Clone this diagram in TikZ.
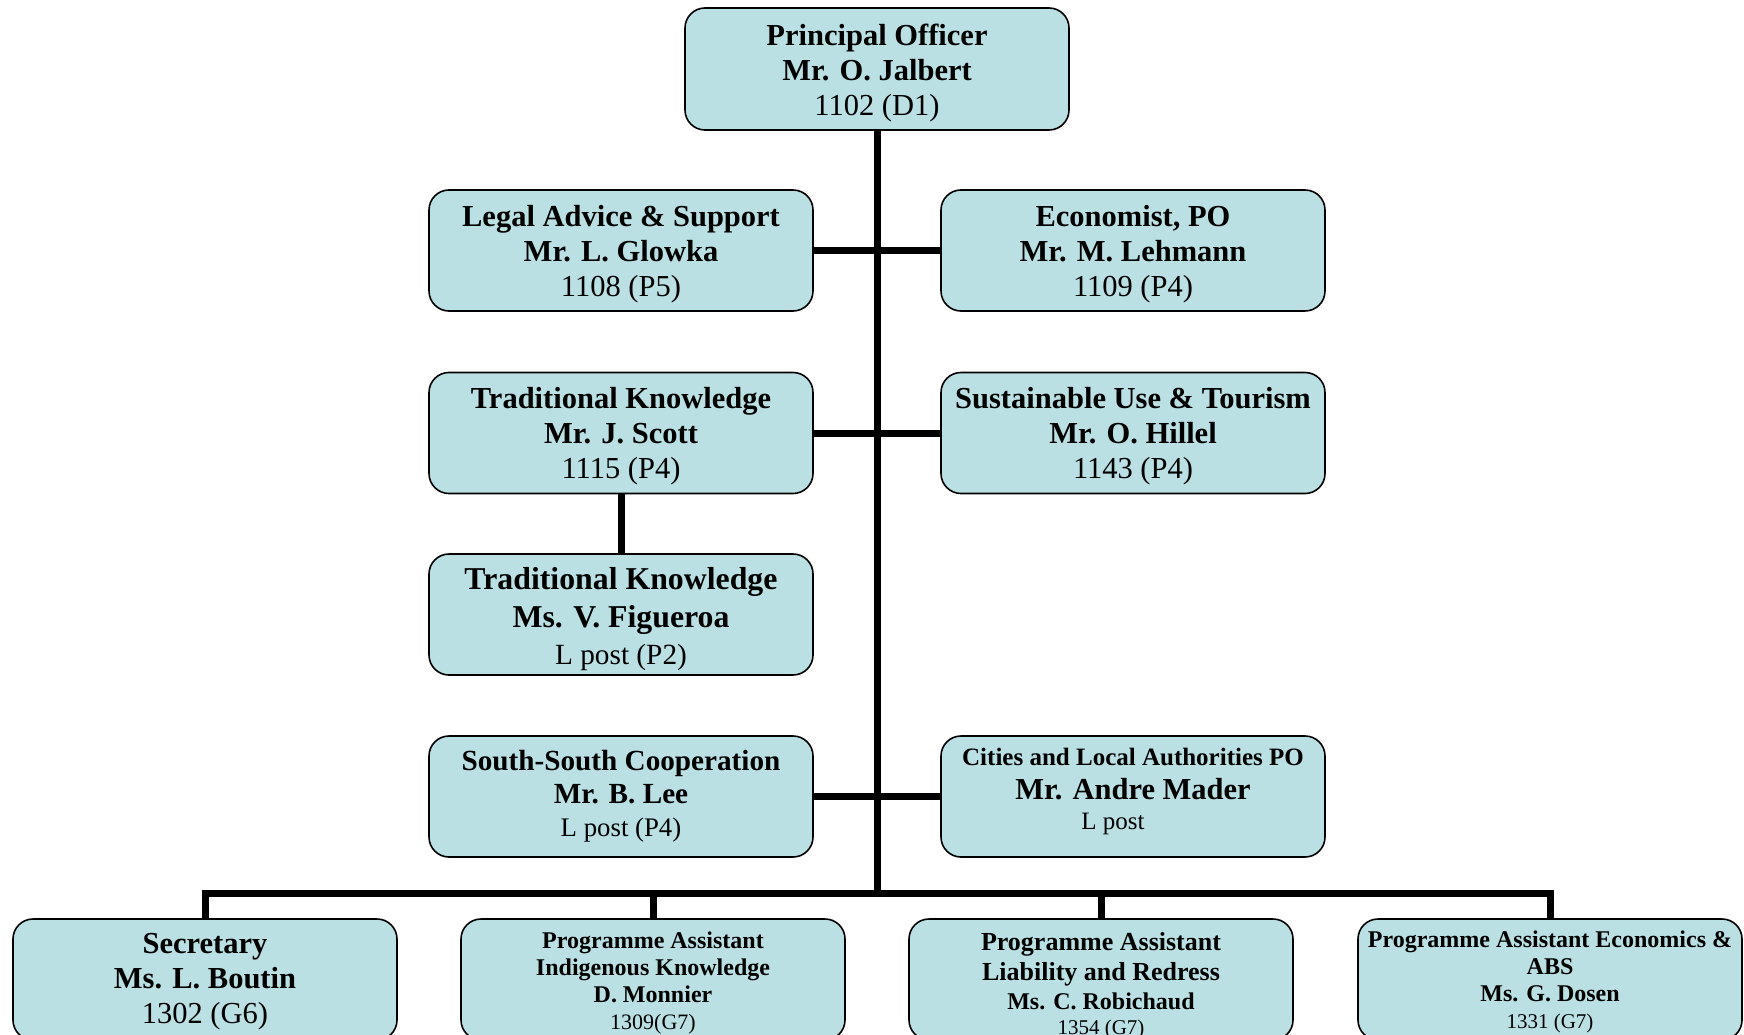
\documentclass[tikz,border=0pt]{standalone}
\usepackage{fontspec}
\setmainfont{Liberation Serif}
\definecolor{boxfill}{RGB}{186,224,228}
\newcommand{\fsz}[2]{\fontsize{#1}{#2}\selectfont}
\tikzset{
  orgbox/.style={draw=black, line width=1.6pt, fill=boxfill, rounded corners=20pt,
    minimum width=384pt, minimum height=121pt, inner sep=0pt},
  orgtext/.style={align=center, inner sep=0pt, font=\fsz{30.5}{35}},
  link/.style={line width=7pt, line join=miter},
}
% name, x, y, text offset (down), text options, text
\newcommand{\orgnode}[6]{%
  \node[orgbox] (#1) at (#2,#3) {};
  \node[orgtext,#5] (#1-t) at (#2,#3+#4) {#6};}
\begin{document}
\begin{tikzpicture}[x=1pt,y=-1pt]
\useasboundingbox (0,0) rectangle (1744,1035);
\clip (0,0) rectangle (1744,1035);

\node[orgbox, minimum height=122pt] (po) at (877,69) {};
\node[orgtext] (po-t) at (877,72.9) {\textbf{Principal Officer}\\\textbf{Mr. O. Jalbert}\\1102 (D1)};

\orgnode{legal}{621}{250.5}{3.3}{}{\textbf{Legal Advice \& Support}\\\textbf{Mr. L. Glowka}\\1108 (P5)}
\orgnode{econ}{1133}{250.5}{3.3}{}{\textbf{Economist, PO}\\\textbf{Mr. M. Lehmann}\\1109 (P4)}

\orgnode{tka}{621}{433}{2.8}{}{\textbf{Traditional Knowledge}\\\textbf{Mr. J. Scott}\\1115 (P4)}
\orgnode{sust}{1133}{433}{2.8}{}{\textbf{Sustainable Use \& Tourism}\\\textbf{Mr. O. Hillel}\\1143 (P4)}

\orgnode{tkb}{621}{614.5}{5}{font=\fsz{31.8}{37.5}}{\textbf{Traditional Knowledge}\\\textbf{Ms. V. Figueroa}\\{\fsz{29.3}{33}L post (P2)}}

\orgnode{ssc}{621}{796.5}{0}{font=\fsz{29.2}{33}}{\textbf{South-South Cooperation}\\\textbf{Mr. B. Lee}\\{\fsz{26.8}{30}L post (P4)}}
\orgnode{city}{1133}{796.5}{-5}{font=\fsz{25}{32.5}}{\textbf{Cities and Local Authorities PO}\\[2pt]{\fsz{30.5}{35}\textbf{Mr. Andre Mader}}\\[-2.5pt]L post\hspace*{40pt}}

\orgnode{sec}{205}{979.5}{2.6}{}{\textbf{Secretary}\\\textbf{Ms. L. Boutin}\\1302 (G6)}
\orgnode{pai}{653}{979.5}{3.3}{font=\fsz{24}{27}}{\textbf{Programme Assistant}\\\textbf{Indigenous Knowledge}\\\textbf{D. Monnier}\\{\fsz{22}{25}1309(G7)}}
\orgnode{pal}{1101}{979.5}{6}{font=\fsz{26}{29.5}}{\textbf{Programme Assistant}\\\textbf{Liability and Redress}\\{\fsz{24}{27}\textbf{Ms. C. Robichaud}}\\[-5pt]{\fsz{21}{24}1354 (G7)}}
\orgnode{pae}{1550}{979.5}{2.8}{font=\fsz{24}{27}}{\textbf{Programme Assistant Economics \&}\\\textbf{ABS}\\\textbf{Ms. G. Dosen}\\{\fsz{21}{24}1331 (G7)}}

\coordinate (bus) at (877,893);

\draw[link] (po.south) -- (po.south |- bus);
\draw[link] (legal.east) -- (econ.west);
\draw[link] (tka.east) -- (sust.west);
\draw[link] (ssc.east) -- (city.west);
\draw[link] (tka.south) -- (tkb.north);
\draw[link] (sec.north) -- (sec.north |- bus) -- (pae.north |- bus) -- (pae.north);
\draw[link] (pai.north |- bus) -- (pai.north);
\draw[link] (pal.north |- bus) -- (pal.north);
\end{tikzpicture}
\end{document}
